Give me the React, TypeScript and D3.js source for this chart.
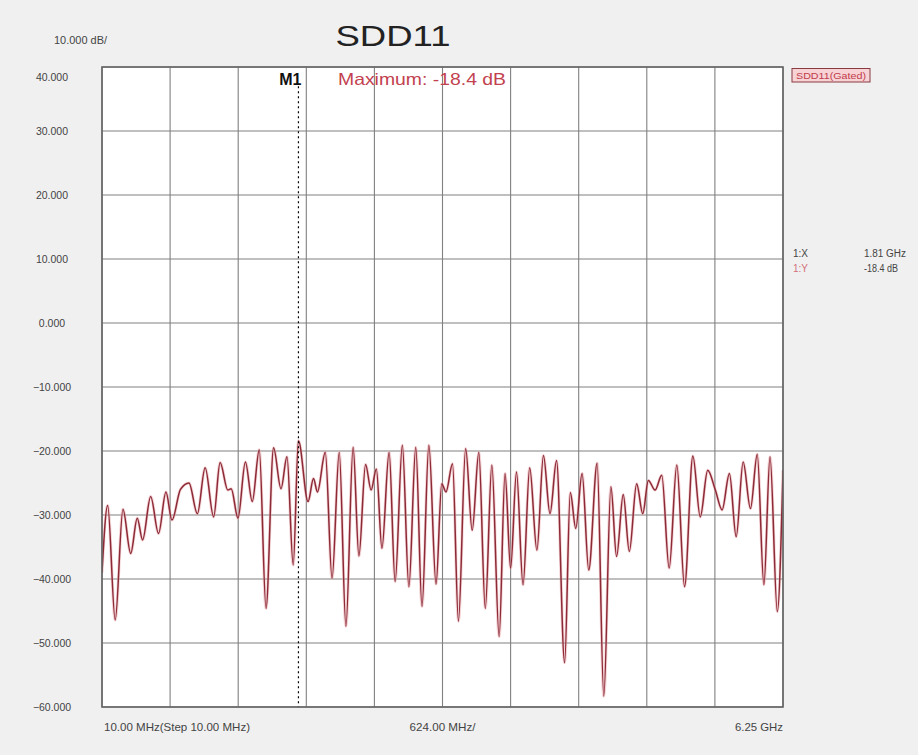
import React from "react";
import * as d3 from "d3";

// ---- data ----
const freqGHz = [
  0.010, 0.062, 0.131, 0.202, 0.273, 0.333, 0.382, 0.456, 0.528, 0.596,
  0.651, 0.729, 0.807, 0.884, 0.955, 1.033, 1.092, 1.163, 1.194, 1.256,
  1.324, 1.387, 1.451, 1.513, 1.582, 1.650, 1.705, 1.762, 1.810, 1.898,
  1.948, 1.984, 2.056, 2.118, 2.184, 2.245, 2.311, 2.364, 2.425, 2.476,
  2.524, 2.575, 2.641, 2.696, 2.762, 2.822, 2.885, 2.942, 3.005, 3.071,
  3.123, 3.162, 3.222, 3.276, 3.342, 3.402, 3.463, 3.522, 3.582, 3.649,
  3.703, 3.754, 3.808, 3.868, 3.929, 3.995, 4.055, 4.115, 4.175, 4.249,
  4.301, 4.351, 4.409, 4.470, 4.547, 4.608, 4.673, 4.725, 4.786, 4.842,
  4.909, 4.965, 5.016, 5.078, 5.139, 5.207, 5.277, 5.348, 5.424, 5.492,
  5.560, 5.630, 5.692, 5.759, 5.821, 5.885, 5.952, 6.014, 6.075, 6.131,
  6.198, 6.250,
];
const sdd11dB = [
  -39.0, -28.5, -46.4, -29.1, -36.0, -30.5, -33.9, -27.1, -32.9, -26.4,
  -30.8, -26.0, -25.0, -29.8, -22.6, -30.3, -21.8, -26.1, -25.9, -30.5,
  -21.7, -27.9, -19.8, -44.6, -19.5, -25.9, -20.9, -37.8, -18.4, -27.9,
  -24.3, -26.4, -20.2, -39.9, -20.2, -47.4, -19.4, -36.4, -22.1, -26.1,
  -22.8, -35.2, -20.2, -40.4, -19.1, -41.2, -19.4, -44.3, -19.1, -40.8,
  -25.1, -26.4, -22.0, -46.6, -19.6, -32.4, -20.2, -44.6, -22.2, -49.0,
  -23.5, -38.3, -23.3, -40.9, -22.6, -35.5, -20.7, -29.8, -21.5, -53.1,
  -26.5, -32.1, -23.5, -38.6, -21.9, -58.3, -25.6, -36.5, -26.8, -35.7,
  -25.1, -29.8, -24.6, -26.1, -23.8, -38.3, -22.2, -41.2, -20.8, -30.3,
  -23.0, -26.1, -29.2, -23.5, -33.4, -21.7, -29.0, -20.5, -40.9, -20.9,
  -45.1, -23.0,
];
const yTicks = [40, 30, 20, 10, 0, -10, -20, -30, -40, -50, -60];
const xStartGHz = 0.01;
const xStopGHz = 6.25;
const xStepGHz = 0.624;
const xDivisions = 10;
const markerFreqGHz = 1.81;
const markerDb = -18.4;
const title = "SDD11";
const traceName = "SDD11(Gated)";

const W = 918;
const H = 755;
const L = 102, R = 783, T = 67, B = 707;
const FONT = "'Liberation Sans', Arial, sans-serif";

export default function App() {
  const x = d3.scaleLinear().domain([xStartGHz, xStopGHz]).range([L, R]);
  const y = d3.scaleLinear().domain([-60, 40]).range([B, T]);
  const xGrid = d3.range(xDivisions + 1).map((i) => xStartGHz + i * xStepGHz);
  const pts = freqGHz.map((f, i) => [f, sdd11dB[i]] as [number, number]);
  const line = d3
    .line<[number, number]>()
    .x((d) => x(d[0]))
    .y((d) => y(d[1]))
    .curve(d3.curveMonotoneX);
  const mx = x(markerFreqGHz);
  const fmt = d3.format(".3f");
  const path = line(pts) || "";

  return (
    <svg
      width={W}
      height={H}
      style={{ position: "absolute", left: 0, top: 0, fontFamily: FONT }}
    >
      <defs>
        <clipPath id="plotclip">
          <rect x={L} y={T} width={R - L} height={B - T} />
        </clipPath>
      </defs>
      <rect x={0} y={0} width={W} height={H} fill="#f0f0f0" />
      <rect x={L} y={T} width={R - L} height={B - T} fill="#ffffff" />
      {/* grid */}
      {yTicks.map((v) => (
        <line key={"h" + v} x1={L} x2={R} y1={y(v)} y2={y(v)} stroke="#808080" strokeWidth={1.1} />
      ))}
      {xGrid.map((f, i) => (
        <line key={"v" + i} x1={x(f)} x2={x(f)} y1={T} y2={B} stroke="#808080" strokeWidth={1.1} />
      ))}
      {/* trace */}
      <g clipPath="url(#plotclip)">
        <path d={path} fill="none" stroke="#eaa7ae" strokeWidth={3} opacity={0.5} />
        <path d={path} fill="none" stroke="#8c2a36" strokeWidth={1.5} />
      </g>
      {/* marker */}
      <line x1={mx} x2={mx} y1={y(37)} y2={B} stroke="#000" strokeWidth={1.2} strokeDasharray="2,3" />
      <rect x={L} y={T} width={R - L} height={B - T} fill="none" stroke="#666" strokeWidth={1.6} />
      {/* y labels */}
      {yTicks.map((v) => (
        <text
          key={"yl" + v}
          x={52}
          y={Math.max(y(v), T + 10) + 4}
          textAnchor="middle"
          fontSize={10.5}
          fill="#444"
        >
          {fmt(v)}
        </text>
      ))}
      <text x={54} y={44} fontSize={10.5} fill="#444" textLength={53} lengthAdjust="spacingAndGlyphs">10.000 dB/</text>
      {/* title */}
      <text x={393} y={46} textAnchor="middle" fontSize={30} fill="#222" textLength={115} lengthAdjust="spacingAndGlyphs">
        {title}
      </text>
      {/* marker label */}
      <text x={mx + 3} y={85} textAnchor="end" fontSize={16} fontWeight="bold" fill="#111">M1</text>
      <text x={338} y={85} fontSize={16.5} fill="#c2414f" textLength={168} lengthAdjust="spacingAndGlyphs">
        {"Maximum: " + markerDb.toFixed(1) + " dB"}
      </text>
      {/* legend box */}
      <rect x={792} y={68.5} width={78} height={13.5} fill="#f7d3d6" stroke="#8a3a40" strokeWidth={1} />
      <text x={831} y={78.5} textAnchor="middle" fontSize={9} fill="#c23b4b" textLength={70} lengthAdjust="spacingAndGlyphs">
        {traceName}
      </text>
      {/* marker readout */}
      <text x={793} y={257} fontSize={10} fill="#444">1:X</text>
      <text x={864} y={257} fontSize={10} fill="#444" textLength={42} lengthAdjust="spacingAndGlyphs">{markerFreqGHz.toFixed(2) + " GHz"}</text>
      <text x={793} y={272} fontSize={10} fill="#d2707c">1:Y</text>
      <text x={864} y={272} fontSize={10} fill="#444" textLength={34} lengthAdjust="spacingAndGlyphs">{markerDb.toFixed(1) + " dB"}</text>
      {/* x labels */}
      <text x={104} y={731} fontSize={10.5} fill="#444" textLength={146} lengthAdjust="spacingAndGlyphs">
        10.00 MHz(Step 10.00 MHz)
      </text>
      <text x={x((xStartGHz + xStopGHz) / 2)} y={731} textAnchor="middle" fontSize={10.5} fill="#444" textLength={66} lengthAdjust="spacingAndGlyphs">
        {(xStepGHz * 1000).toFixed(2) + " MHz/"}
      </text>
      <text x={R} y={731} textAnchor="end" fontSize={10.5} fill="#444" textLength={48} lengthAdjust="spacingAndGlyphs">
        {xStopGHz.toFixed(2) + " GHz"}
      </text>
    </svg>
  );
}
